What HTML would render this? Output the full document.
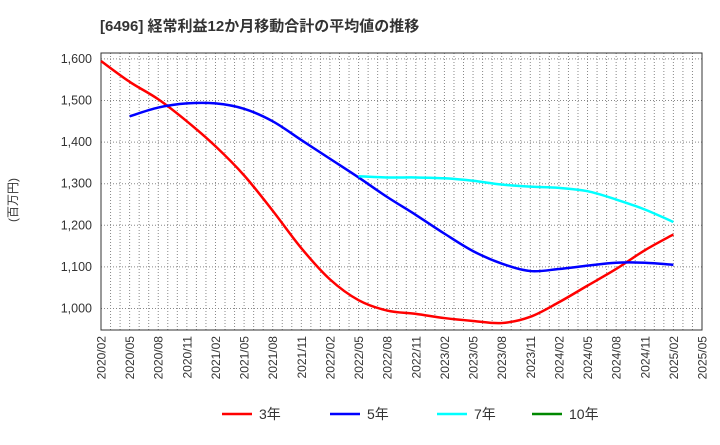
<!DOCTYPE html>
<html><head><meta charset="utf-8"><style>
body{margin:0;background:#fff;font-family:"Liberation Sans","Noto Sans CJK JP",sans-serif}
</style></head><body>
<svg id="c" width="720" height="440" xmlns="http://www.w3.org/2000/svg">
<text x="100" y="31" font-size="15" font-weight="bold" fill="#333">[6496]  経常利益12か月移動合計の平均値の推移</text>
<text transform="translate(17,200) rotate(-90)" font-size="12" fill="#333" text-anchor="middle">(百万円)</text>
<g id="grid"></g><g id="axes"></g><g id="series"></g><g id="legend"></g>
</svg>
<script>
const xLabels=["2020/02","2020/05","2020/08","2020/11","2021/02","2021/05","2021/08","2021/11","2022/02","2022/05","2022/08","2022/11","2023/02","2023/05","2023/08","2023/11","2024/02","2024/05","2024/08","2024/11","2025/02","2025/05"];
const yTicks=[1000,1100,1200,1300,1400,1500,1600];
const s3=[1595,1545,1503,1450,1390,1320,1235,1145,1070,1020,995,987,977,970,965,980,1015,1055,1095,1140,1178];
const s3Start=0;
const s5=[1462,1483,1493,1493,1480,1450,1405,1360,1315,1268,1225,1180,1138,1108,1090,1095,1103,1110,1110,1105];
const s5Start=1;
const s7=[1318,1315,1315,1313,1307,1298,1293,1290,1282,1262,1238,1208];
const s7Start=9;
const L=101,R=702,T=53,B=330;
const X=i=>L+(R-L)*i/21;
const Y=v=>308.5-(v-1000)*0.416;
const ns="http://www.w3.org/2000/svg";
function mk(p,t,a){const e=document.createElementNS(ns,t);for(const k in a)e.setAttribute(k,a[k]);p.appendChild(e);return e;}
const grid=document.getElementById('grid'),axes=document.getElementById('axes'),ser=document.getElementById('series'),leg=document.getElementById('legend');
for(let m=1;m<63;m++){const x=L+(R-L)*m/63;const l=mk(grid,'line',{x1:x,x2:x,y1:T,y2:B,stroke:'#888','stroke-dasharray':'1,2','stroke-width':1});

}
yTicks.forEach(v=>{const l=mk(grid,'line',{x1:L,x2:R,y1:Y(v),y2:Y(v),stroke:'#888','stroke-dasharray':'1,2'});


const t=mk(axes,'text',{x:92,y:Y(v)+4,'font-size':12.5,fill:'#333','text-anchor':'end'});t.textContent=v.toLocaleString('en-US');

});
const fr=mk(axes,'rect',{x:L,y:T,width:R-L,height:B-T,fill:'none',stroke:'#333'});


xLabels.forEach((s,i)=>{const t=mk(axes,'text',{transform:`translate(${X(i)+4.5},${B+6}) rotate(-90)`,'font-size':12,fill:'#333','text-anchor':'end'});t.textContent=s;

});
function path(vals,start){const p=vals.map((v,i)=>[X(start+i),Y(v)]);let d=`M${p[0][0]},${p[0][1]}`;
for(let i=0;i<p.length-1;i++){const p0=p[i-1]||p[i],p1=p[i],p2=p[i+1],p3=p[i+2]||p2;
d+=` C${p1[0]+(p2[0]-p0[0])/6},${p1[1]+(p2[1]-p0[1])/6} ${p2[0]-(p3[0]-p1[0])/6},${p2[1]-(p3[1]-p1[1])/6} ${p2[0]},${p2[1]}`;}return d;}
[[s3,s3Start,'#f00','series-3y'],[s5,s5Start,'#00f','series-5y'],[s7,s7Start,'#0ff','series-7y']].forEach(([v,s,c,n])=>{
const e=mk(ser,'path',{d:path(v,s),fill:'none',stroke:c,'stroke-width':2.5});

});
[['3年','#f00',222],['5年','#00f',330],['7年','#0ff',437],['10年','#080',532]].forEach(([t,c,x])=>{
const g=mk(leg,'g',{});


mk(g,'line',{x1:x,x2:x+30,y1:414,y2:414,stroke:c,'stroke-width':2.5});
const tx=mk(g,'text',{x:x+37,y:419,'font-size':14,fill:'#333'});tx.textContent=t;});
</script>
</body></html>
